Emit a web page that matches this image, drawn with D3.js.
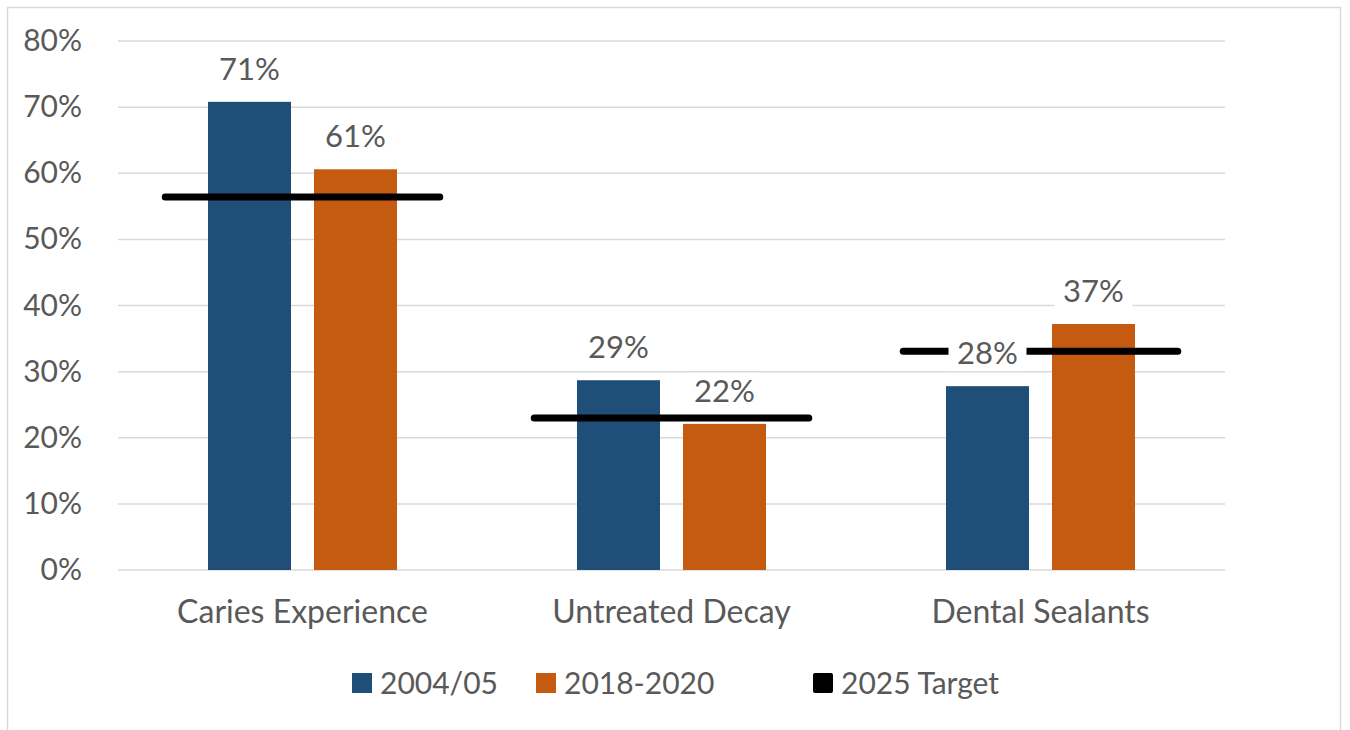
<!DOCTYPE html>
<html>
<head>
    <meta charset="utf-8">
    <title>Oral health indicators</title>
    <script type="text/javascript" src="https://d3js.org/d3.v7.min.js"></script>
    <style>
        body { margin: 0; background: #fff; }
        svg { display: block; font-family: Lato, "Open Sans", sans-serif; }
        .grid line { stroke: #d9d9d9; stroke-width: 1.5; }
        text { fill: #595959; }
    </style>
</head>
<body>
</body>
<script type="text/javascript">
    //Width and height
    var w = 1350;
    var h = 730;

    //Data
    var categories = ["Caries Experience", "Untreated Decay", "Dental Sealants"];
    var series = ["2004/05", "2018-2020"];
    var values2004 = [0.708, 0.287, 0.278];
    var values2018 = [0.606, 0.221, 0.372];
    var targets = [0.564, 0.23, 0.331];
    var labels2004 = ["71%", "29%", "28%"];
    var labels2018 = ["61%", "22%", "37%"];
    var yTicks = [0, 0.1, 0.2, 0.3, 0.4, 0.5, 0.6, 0.7, 0.8];
    var legendNames = ["2004/05", "2018-2020", "2025 Target"];
    var colors = ["#1f4e79", "#c55a11", "#000000"];

    var margin = { left: 118, right: 125, top: 41, bottom: 160 };

    var svg = d3.select("body")
        .append("svg")
        .attr("width", w)
        .attr("height", h);

    //Chart border
    svg.append("rect")
        .attr("x", 7.5)
        .attr("y", 7.5)
        .attr("width", 1333)
        .attr("height", 740)
        .attr("fill", "none")
        .attr("stroke", "#d9d9d9")
        .attr("stroke-width", 1.5);

    var x = d3.scaleBand()
        .domain(categories)
        .range([margin.left, w - margin.right]);

    var xSub = d3.scaleBand()
        .domain(series)
        .range([0, x.bandwidth()])
        .paddingInner(0.217)
        .paddingOuter(0.849);

    var y = d3.scaleLinear()
        .domain([0, 0.8])
        .range([h - margin.bottom, margin.top]);

    //Gridlines
    svg.append("g")
        .attr("class", "grid")
        .selectAll("line")
        .data(yTicks)
        .enter()
        .append("line")
        .attr("x1", margin.left)
        .attr("x2", w - margin.right)
        .attr("y1", function(d) { return y(d); })
        .attr("y2", function(d) { return y(d); });

    //Y axis labels
    var yAxis = d3.axisLeft(y)
        .tickValues(yTicks)
        .tickFormat(d3.format(".0%"))
        .tickSize(0)
        .tickPadding(36);

    var gy = svg.append("g")
        .attr("transform", "translate(" + margin.left + ",0)")
        .call(yAxis);
    gy.select(".domain").remove();
    gy.selectAll("text")
        .style("font-size", "30px")
        .style("font-family", "Lato, sans-serif")
        .attr("fill", "#595959");

    //X axis labels
    var gx = svg.append("g")
        .attr("transform", "translate(0," + (h - margin.bottom) + ")")
        .call(d3.axisBottom(x).tickSize(0).tickPadding(30));
    gx.select(".domain").remove();
    gx.selectAll("text")
        .style("font-size", "32px")
        .style("font-family", "Lato, sans-serif")
        .attr("fill", "#595959");

    //Bars
    var rows = categories.map(function(c, i) {
        return {
            cat: c,
            bars: [
                { s: series[0], v: values2004[i], label: labels2004[i], color: colors[0] },
                { s: series[1], v: values2018[i], label: labels2018[i], color: colors[1] }
            ],
            target: targets[i]
        };
    });

    var groups = svg.selectAll("g.cat")
        .data(rows)
        .enter()
        .append("g")
        .attr("class", "cat")
        .attr("transform", function(d) { return "translate(" + x(d.cat) + ",0)"; });

    groups.selectAll("rect")
        .data(function(d) { return d.bars; })
        .enter()
        .append("rect")
        .attr("x", function(d) { return xSub(d.s); })
        .attr("width", xSub.bandwidth())
        .attr("y", function(d) { return y(d.v); })
        .attr("height", function(d) { return y(0) - y(d.v); })
        .attr("fill", function(d) { return d.color; });

    //Target lines
    var half = x.bandwidth() * 0.372;
    groups.append("line")
        .attr("x1", x.bandwidth() / 2 - half)
        .attr("x2", x.bandwidth() / 2 + half)
        .attr("y1", function(d) { return y(d.target); })
        .attr("y2", function(d) { return y(d.target); })
        .attr("stroke", "#000")
        .attr("stroke-width", 7)
        .attr("stroke-linecap", "round");

    //Data labels with white backgrounds
    var labels = groups.selectAll("g.lbl")
        .data(function(d) { return d.bars; })
        .enter()
        .append("g")
        .attr("class", "lbl")
        .attr("transform", function(d) {
            return "translate(" + (xSub(d.s) + xSub.bandwidth() / 2) + "," + (y(d.v) - 33) + ")";
        });

    labels.append("rect")
        .attr("x", -39)
        .attr("y", -18)
        .attr("width", 78)
        .attr("height", 36)
        .attr("fill", "#fff");

    labels.append("text")
        .attr("text-anchor", "middle")
        .attr("dy", "0.36em")
        .style("font-size", "31px")
        .text(function(d) { return d.label; });

    //Legend
    var legendX = [352, 536, 813];
    var legend = svg.selectAll("g.legend")
        .data(legendNames)
        .enter()
        .append("g")
        .attr("class", "legend")
        .attr("transform", function(d, i) { return "translate(" + legendX[i] + ",683)"; });

    legend.append("rect")
        .attr("x", 0)
        .attr("y", -10)
        .attr("width", 20)
        .attr("height", 20)
        .attr("rx", function(d, i) { return i == 2 ? 2 : 0; })
        .attr("fill", function(d, i) { return colors[i]; });

    legend.append("text")
        .attr("x", 28)
        .attr("dy", "0.36em")
        .style("font-size", "30px")
        .text(function(d) { return d; });
</script>
</html>
